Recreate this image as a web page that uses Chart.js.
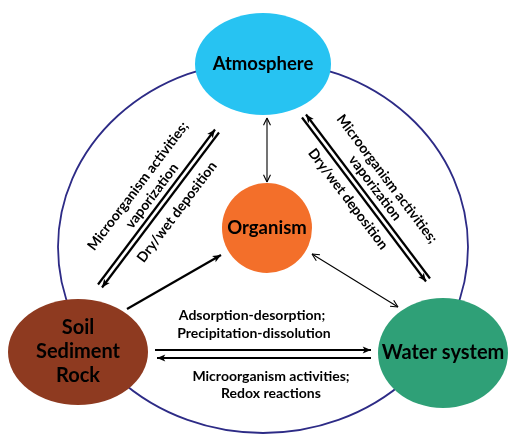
<!DOCTYPE html>
<html>
<head>
<meta charset="utf-8">
<script src="https://cdn.jsdelivr.net/npm/chart.js@4.4.0/dist/chart.umd.min.js"></script>
<style>
  html, body { margin: 0; padding: 0; background: #fff; }
  #wrap { width: 509px; height: 436px; }
</style>
</head>
<body>
<div id="wrap"><canvas id="cycle" width="509" height="436"></canvas></div>
<script>
// nodes of the cycle (picture units, y down)
var nodeLabels = [['Atmosphere'], ['Organism'], ['Soil', 'Sediment', 'Rock'], ['Water system']];
var nodeX = [263, 267, 78, 443];
var nodeY = [64, 228, 352, 353];

// arrows: start / end points and which ends carry a head
var arrowFrom = [[267, 118], [98, 284.5], [219, 132.5], [430, 278.5], [302, 117.5], [127, 309], [312, 254], [155, 350], [371, 358]];
var arrowTo   = [[267, 182], [215, 129.5], [102, 287.5], [306, 114.5], [426, 281.5], [221, 255], [398, 307], [371, 350], [157, 358]];
var arrowHeads = ['both', 'end', 'end', 'end', 'end', 'end', 'both', 'end', 'end'];
var arrowThin = [true, false, false, false, false, false, true, false, false];

// process labels
var processText = [
    'Microorganism activities;', 'vaporization', 'Dry/wet deposition',
    'Microorganism activities;', 'vaporization', 'Dry/wet deposition',
    'Adsorption-desorption;', 'Precipitation-dissolution',
    'Microorganism activities;', 'Redox reactions'
];
var processX = [138, 152, 177, 387, 375, 348, 252, 254, 271, 271];
var processY = [186, 196, 212, 179, 188, 199, 315, 333, 376, 393];
var processAngle = [-52.9, -52.9, -52.9, 52.9, 52.9, 52.9, 0, 0, 0, 0];

// --- styles ---
var nodeColors = ['#27c3f2', '#f36f2a', '#8e3a20', '#2fa077'];
var nodeRx = [68, 45, 70, 65];
var nodeRy = [51, 45, 53, 55];
var nodeFont = [18.5, 18.5, 20, 20];
var ringColor = '#2d2b86';
var FONT = 'Lato, "Open Sans", sans-serif';

function px(chart, x, y) {
    return [chart.scales.x.getPixelForValue(x), chart.scales.y.getPixelForValue(y)];
}

function drawHead(ctx, x1, y1, x2, y2, len, thin) {
    var a = Math.atan2(y2 - y1, x2 - x1);
    var w = thin ? 0.45 : 0.4;
    ctx.beginPath();
    ctx.moveTo(x2, y2);
    ctx.lineTo(x2 - len * Math.cos(a - w), y2 - len * Math.sin(a - w));
    if (thin) {
        ctx.moveTo(x2, y2);
    } else {
        ctx.lineTo(x2 - len * 0.7 * Math.cos(a), y2 - len * 0.7 * Math.sin(a));
    }
    ctx.lineTo(x2 - len * Math.cos(a + w), y2 - len * Math.sin(a + w));
    if (thin) {
        ctx.stroke();
    } else {
        ctx.closePath();
        ctx.fill();
    }
}

var cyclePlugin = {
    id: 'cycle',
    beforeDatasetsDraw: function (chart) {
        var ctx = chart.ctx;
        ctx.save();
        // outer ring
        var c = px(chart, 263, 247);
        ctx.beginPath();
        ctx.ellipse(c[0], c[1], 205, 186, 0, 0, Math.PI * 2);
        ctx.strokeStyle = ringColor;
        ctx.lineWidth = 1.8;
        ctx.stroke();
        // node shapes
        for (var i = 0; i < nodeX.length; i++) {
            var p = px(chart, nodeX[i], nodeY[i]);
            ctx.beginPath();
            ctx.ellipse(p[0], p[1], nodeRx[i], nodeRy[i], 0, 0, Math.PI * 2);
            ctx.fillStyle = nodeColors[i];
            ctx.fill();
        }
        ctx.restore();
    },
    afterDatasetsDraw: function (chart) {
        var ctx = chart.ctx;
        ctx.save();
        ctx.fillStyle = '#000';
        ctx.strokeStyle = '#000';
        // arrow heads on the line datasets
        chart.data.datasets.forEach(function (ds, i) {
            if (ds.type !== 'line') return;
            var pts = chart.getDatasetMeta(i).data;
            var a = pts[0], b = pts[1];
            var thin = arrowThin[ds.arrowIndex];
            var len = thin ? 8 : 9;
            ctx.lineWidth = ds.borderWidth;
            drawHead(ctx, a.x, a.y, b.x, b.y, len, thin);
            if (arrowHeads[ds.arrowIndex] === 'both') drawHead(ctx, b.x, b.y, a.x, a.y, len, thin);
        });
        // node labels
        ctx.textAlign = 'center';
        ctx.textBaseline = 'middle';
        for (var i = 0; i < nodeLabels.length; i++) {
            var p = px(chart, nodeX[i], nodeY[i]);
            var lines = nodeLabels[i];
            ctx.font = 'bold ' + nodeFont[i] + 'px ' + FONT;
            for (var k = 0; k < lines.length; k++) {
                ctx.fillText(lines[k], p[0], p[1] + (k - (lines.length - 1) / 2) * 24);
            }
        }
        // process labels
        ctx.font = 'bold 14px ' + FONT;
        for (var j = 0; j < processText.length; j++) {
            var q = px(chart, processX[j], processY[j]);
            ctx.save();
            ctx.translate(q[0], q[1]);
            ctx.rotate(processAngle[j] * Math.PI / 180);
            ctx.fillText(processText[j], 0, 0);
            ctx.restore();
        }
        ctx.restore();
    }
};

var datasets = arrowFrom.map(function (f, i) {
    return {
        type: 'line',
        arrowIndex: i,
        data: [{ x: f[0], y: f[1] }, { x: arrowTo[i][0], y: arrowTo[i][1] }],
        borderColor: '#000',
        borderWidth: arrowThin[i] ? 1.1 : 2.2,
        pointRadius: 0,
        fill: false,
        tension: 0
    };
});

new Chart(document.getElementById('cycle').getContext('2d'), {
    type: 'scatter',
    data: { datasets: datasets },
    options: {
        responsive: false,
        animation: false,
        layout: { padding: 0 },
        plugins: { legend: { display: false }, tooltip: { enabled: false } },
        scales: {
            x: { type: 'linear', min: 0, max: 509, display: false },
            y: { type: 'linear', min: 0, max: 436, reverse: true, display: false }
        }
    },
    plugins: [cyclePlugin]
});
</script>
</body>
</html>
